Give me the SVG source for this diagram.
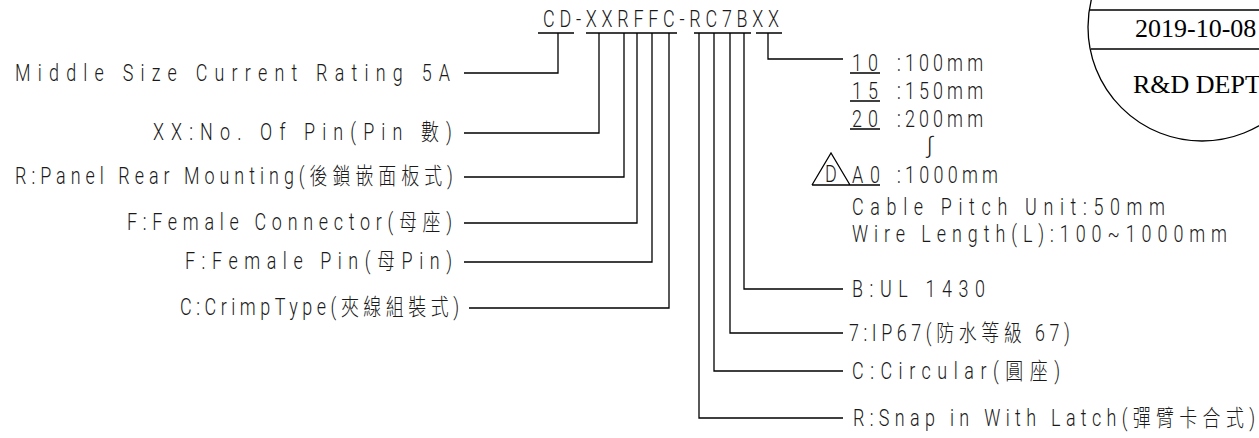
<svg xmlns="http://www.w3.org/2000/svg" width="1259" height="438" viewBox="0 0 1259 438">
<style>
.t{font-family:Roboto,"DejaVu Sans","Noto Sans CJK TC",sans-serif;font-weight:300;font-size:23px;fill:#1a1a1a}
.s{font-family:"Liberation Serif","Times New Roman",serif;font-size:26px;fill:#000}
.ln{fill:none;stroke:#000;stroke-width:1.3}
</style>
<rect width="1259" height="438" fill="#fff"/>
<g id="title">
<text class="t" transform="translate(543 27) scale(.78 1)" font-size="21" textLength="302.6" lengthAdjust="spacing">CD-XXRFFC-RC7BXX</text>
<path class="ln" d="M538 33H574M586 33H677M694 33H751M756 33H782"/>
</g>
<g id="connectors" class="ln">
<path d="M558 33V73H464"/>
<path d="M599 33V133H464"/>
<path d="M624 33V177H464"/>
<path d="M637 33V223H464"/>
<path d="M652 33V262H464"/>
<path d="M669 33V308H469"/>
<path d="M699 33V418H843"/>
<path d="M714 33V371H843"/>
<path d="M730 33V333H843"/>
<path d="M744 33V289H843"/>
<path d="M768 33V59H843"/>
</g>
<g id="n-middle"><text class="t" transform="translate(15 81) scale(.78 1)" textLength="557.7" lengthAdjust="spacing">Middle Size Current Rating 5A</text></g>
<g id="n-xx"><text class="t" transform="translate(153 140) scale(.78 1)" textLength="383.3" lengthAdjust="spacing">XX:No. Of Pin(Pin 數)</text></g>
<g id="n-r"><text class="t" transform="translate(15 184) scale(.78 1)" textLength="561.5" lengthAdjust="spacing">R:Panel Rear Mounting(後鎖嵌面板式)</text></g>
<g id="n-fc"><text class="t" transform="translate(127 230) scale(.78 1)" textLength="416.7" lengthAdjust="spacing">F:Female Connector(母座)</text></g>
<g id="n-fp"><text class="t" transform="translate(185 269) scale(.78 1)" textLength="342.3" lengthAdjust="spacing">F:Female Pin(母Pin)</text></g>
<g id="n-c"><text class="t" transform="translate(180 315) scale(.78 1)" textLength="357.7" lengthAdjust="spacing">C:CrimpType(夾線組裝式)</text></g>
<g id="n-len">
<text class="t" transform="translate(852 71) scale(.78 1)" textLength="33.3" lengthAdjust="spacing">10</text>
<text class="t" transform="translate(897 71) scale(.78 1)" textLength="110.3" lengthAdjust="spacing">:100mm</text>
<text class="t" transform="translate(852 99) scale(.78 1)" textLength="33.3" lengthAdjust="spacing">15</text>
<text class="t" transform="translate(897 99) scale(.78 1)" textLength="110.3" lengthAdjust="spacing">:150mm</text>
<text class="t" transform="translate(852 127) scale(.78 1)" textLength="33.3" lengthAdjust="spacing">20</text>
<text class="t" transform="translate(897 127) scale(.78 1)" textLength="110.3" lengthAdjust="spacing">:200mm</text>
<text class="t" x="927" y="153" font-size="13">∫</text>
<text class="t" transform="translate(825 182) scale(.78 1)" font-size="17">D</text>
<text class="t" transform="translate(852 183) scale(.78 1)" textLength="35.9" lengthAdjust="spacing">A0</text>
<text class="t" transform="translate(897 183) scale(.78 1)" textLength="129.5" lengthAdjust="spacing">:1000mm</text>
<path class="ln" d="M850 73H880M850 101H880M850 129H880M812 185H880M812 185L831 153L850 185"/>
<text class="t" transform="translate(852 215) scale(.78 1)" textLength="401.3" lengthAdjust="spacing">Cable Pitch Unit:50mm</text>
<text class="t" transform="translate(852 242) scale(.78 1)" textLength="480.8" lengthAdjust="spacing">Wire Length(L):100~1000mm</text>
</g>
<g id="n-b"><text class="t" transform="translate(852 297) scale(.78 1)" textLength="170.5" lengthAdjust="spacing">B:UL 1430</text></g>
<g id="n-7"><text class="t" transform="translate(849 341) scale(.78 1)" textLength="283.3" lengthAdjust="spacing">7:IP67(防水等級 67)</text></g>
<g id="n-cc"><text class="t" transform="translate(852 379) scale(.78 1)" textLength="266.7" lengthAdjust="spacing">C:Circular(圓座)</text></g>
<g id="n-rs"><text class="t" transform="translate(853 426) scale(.78 1)" textLength="515.4" lengthAdjust="spacing">R:Snap in With Latch(彈臂卡合式)</text></g>
<g id="stamp">
<circle class="ln" cx="1202" cy="27" r="114"/>
<path class="ln" d="M1089 10H1259M1091 49H1259"/>
<text class="s" x="1135" y="37">2019-10-08</text>
<text class="s" x="1133" y="93">R&amp;D DEPT</text>
</g>
</svg>
